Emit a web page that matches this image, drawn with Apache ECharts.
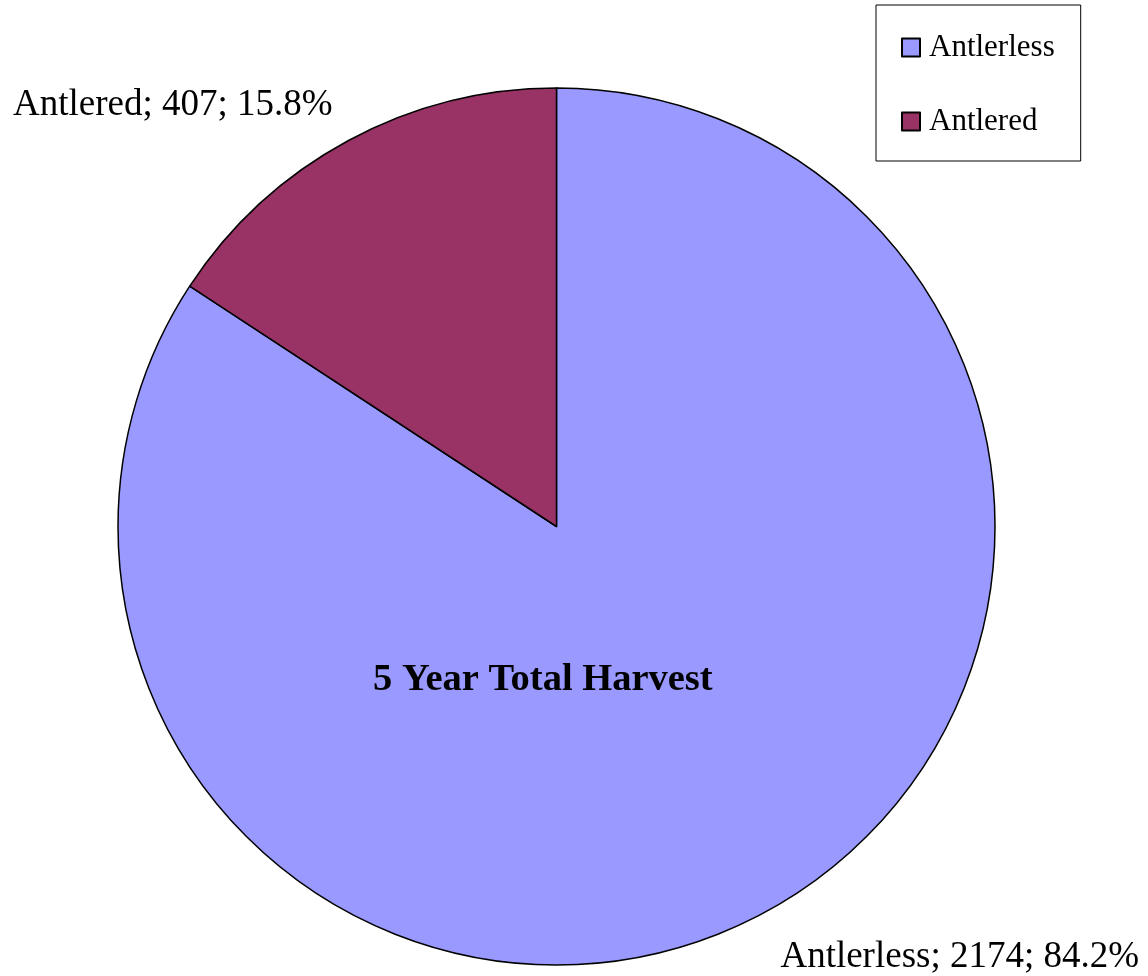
<!DOCTYPE html>
<html>
<head>
<meta charset="utf-8">
<script src="https://cdn.jsdelivr.net/npm/echarts@6/dist/echarts.min.js"></script>
<style>
html,body{margin:0;padding:0;background:#fff;}
#chart{width:1148px;height:976px;}
</style>
</head>
<body>
<div id="chart"></div>
<script>
const categories = ['Antlerless', 'Antlered'];
const values = [2174, 407];
const colors = ['#9999FF', '#993366'];
const titleText = '5 Year Total Harvest';

const FONT = '"Liberation Serif", "Times New Roman", serif';
const chart = echarts.init(document.getElementById('chart'), null, {renderer: 'canvas'});
const total = values.reduce((a, b) => a + b, 0);
// label offset: push labels away from the pie vertically (bottom half down, top half up)
const labelShift = [26, -16];

chart.setOption({
  animation: false,
  backgroundColor: '#ffffff',
  title: {
    text: titleText,
    left: 373,
    top: 661,
    padding: 0,
    textStyle: {fontFamily: FONT, fontSize: 38.5, fontWeight: 'bold', color: '#000'}
  },
  legend: {
    orient: 'vertical',
    left: 876,
    top: 5,
    padding: [27, 26, 24, 25],
    itemGap: 43,
    itemWidth: 18,
    itemHeight: 18,
    borderColor: '#000',
    borderWidth: 1,
    icon: 'rect',
    itemStyle: {borderColor: '#000', borderWidth: 2},
    textStyle: {fontFamily: FONT, fontSize: 31, color: '#000', padding: [0, 0, 0, 4]},
    data: categories
  },
  series: [{
    type: 'pie',
    center: [556.5, 526.5],
    radius: [0, 438.5],
    startAngle: 90,
    clockwise: true,
    avoidLabelOverlap: false,
    color: colors,
    itemStyle: {borderColor: '#000', borderWidth: 1.5},
    emphasis: {disabled: true},
    label: {
      show: true,
      position: 'outside',
      fontFamily: FONT,
      fontSize: 37,
      color: '#000',
      formatter: p => p.name + '; ' + p.value + '; ' + (p.value / total * 100).toFixed(1) + '%'
    },
    labelLine: {show: false, length: 22, length2: 0},
    labelLayout: p => ({dy: labelShift[p.dataIndex]}),
    data: categories.map((c, i) => ({name: c, value: values[i]}))
  }]
});
</script>
</body>
</html>
